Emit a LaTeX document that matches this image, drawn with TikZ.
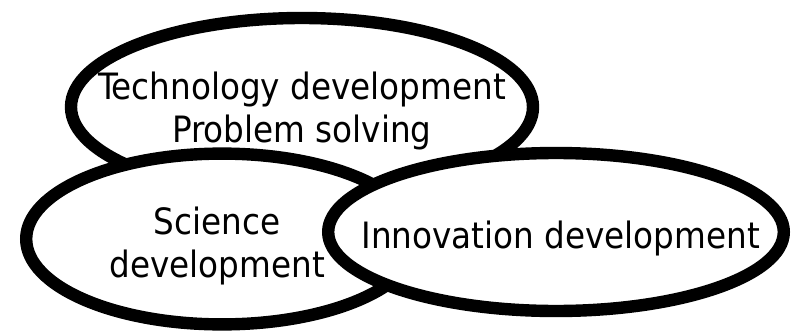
\documentclass[tikz,border=0pt]{standalone}
\usepackage{fontspec}
\setmainfont{DejaVu Sans Condensed}
\usetikzlibrary{shapes.geometric}
\begin{document}
\begin{tikzpicture}[
        bubble/.style={
            draw, ellipse, fill=white, line width=0.31cm, inner sep=0pt
        },
        bubbletext/.style={
            align=center, inner sep=0pt,
            font=\fontsize{25.8}{31}\selectfont
        }
    ]
    \useasboundingbox (0, 0) rectangle (19.8, 8.275);

    % back to front: technology, science, innovation
    \node[bubble, minimum width=11.55cm, minimum height=4.45cm,
        label={[bubbletext, yshift=-0.1cm]center:Technology development\\Problem solving}] (tech) at (7.55, 5.6) {};
    \node[bubble, minimum width=9.79cm, minimum height=4.27cm,
        label={[bubbletext, xshift=-0.12cm, yshift=-0.17cm]center:Science\\development}] (sci) at (5.55, 2.3) {};
    \node[bubble, minimum width=11.39cm, minimum height=3.95cm,
        label={[bubbletext, xshift=0.12cm, yshift=-0.155cm]center:Innovation development}] (inno) at (13.9, 2.475) {};
\end{tikzpicture}
\end{document}
